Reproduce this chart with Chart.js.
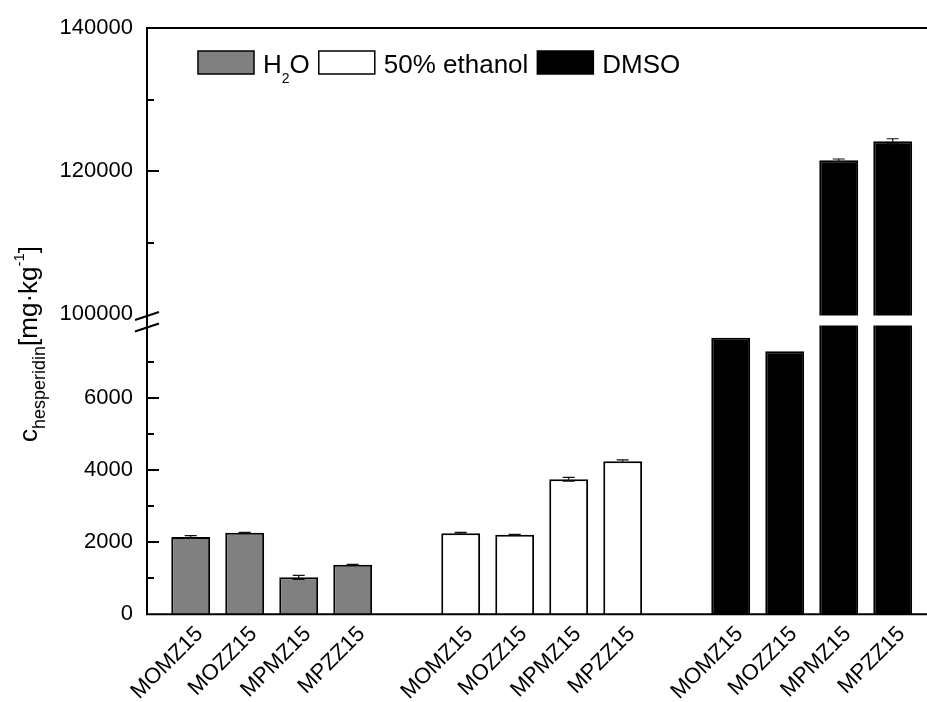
<!DOCTYPE html>
<html>
<head>
<meta charset="utf-8">
<title>Hesperidin content by extraction solvent</title>
<script src="https://cdn.jsdelivr.net/npm/chart.js@4.4.1/dist/chart.umd.min.js"></script>
<style>
  html, body { margin: 0; padding: 0; background: #fff; }
  #wrap { position: relative; width: 927px; height: 702px; }
  #wrap canvas { position: absolute; left: 0; top: 0; }
</style>
</head>
<body>
<div id="wrap">
  <canvas id="lower" width="927" height="702"></canvas>
  <canvas id="upper" width="927" height="702"></canvas>
</div>
<script>
// samples, one group per extraction solvent
const samples = ['MOMZ15', 'MOZZ15', 'MPMZ15', 'MPZZ15'];
const solvents = ['H2O', '50% ethanol', 'DMSO'];

// mean hesperidin content [mg/kg]
const h2oValues = [2140, 2260, 1025, 1375];
const ethanolValues = [2245, 2205, 3740, 4240];
const dmsoValues = [7660, 7285, 121500, 124150];

// standard deviations [mg/kg]
const h2oErrors = [40, 10, 55, 10];
const ethanolErrors = [25, 10, 55, 35];
const dmsoErrors = [0, 0, 180, 360];

// broken y axis: lower and upper segment, labelled ticks
const lowerRange = [0, 8000];
const upperRange = [100000, 140000];
const lowerLabels = [0, 2000, 4000, 6000];
const upperLabels = [100000, 120000, 140000];

const yTitle = [
  { text: 'c', size: 26 },
  { text: 'hesperidin', size: 18, shift: 8 },
  { text: '[mg·kg', size: 26 },
  { text: '-1', size: 15, shift: -13 },
  { text: ']', size: 26 }
];

// ---- layout ----
const W = 927, H = 702;
const FONT = '"Liberation Sans", Arial, sans-serif';
const FRAME_X = 147;
const TOP = 28, BREAK_HI = 314, BREAK_LO = 325.5, BOTTOM = 614.3;
const PLOT_LEFT = 163.7, PLOT_RIGHT = 919.7;

const fills = ['#808080', '#ffffff', '#000000'];

// category slots: the samples of each solvent, one empty slot between groups
const labels = [];
solvents.forEach((s, g) => {
  if (g) labels.push('');
  samples.forEach(n => labels.push(n));
});

function slot(values, g) {
  const arr = labels.map(() => null);
  values.forEach((v, i) => { arr[g * (samples.length + 1) + i] = v; });
  return arr;
}

function makeDatasets(clipBottom) {
  const vals = [h2oValues, ethanolValues, dmsoValues];
  const errs = [h2oErrors, ethanolErrors, dmsoErrors];
  return vals.map((v, g) => ({
    label: solvents[g],
    data: slot(v, g),
    errors: slot(errs[g], g),
    backgroundColor: fills[g],
    borderColor: '#000',
    borderWidth: 2,
    grouped: false,
    barPercentage: 0.72,
    categoryPercentage: 1,
    clip: { left: 0, right: 0, top: 0, bottom: clipBottom }
  }));
}

// text runs with sub/superscripts
function drawRich(ctx, parts, x, y) {
  parts.forEach(p => {
    ctx.font = p.size + 'px ' + FONT;
    ctx.fillText(p.text, x, y + (p.shift || 0));
    x += ctx.measureText(p.text).width;
  });
  return x;
}

function formulaParts(name) {
  const parts = [];
  name.split(/(?<=[A-Za-z])(\d+)/).forEach((t, i) => {
    if (!t) return;
    parts.push(i % 2 ? { text: t, size: 14, shift: 10 } : { text: t, size: 26 });
  });
  return parts;
}

const errorBars = {
  id: 'errorBars',
  afterDatasetsDraw(chart) {
    const { ctx, chartArea: a, scales: { y } } = chart;
    ctx.save();
    ctx.beginPath();
    ctx.rect(a.left, a.top - 1, a.right - a.left, a.bottom - a.top + 2);
    ctx.clip();
    ctx.strokeStyle = '#111';
    ctx.lineWidth = 1.2;
    chart.data.datasets.forEach((ds, di) => {
      chart.getDatasetMeta(di).data.forEach((bar, i) => {
        const v = ds.data[i], e = ds.errors[i];
        if (v == null || !e) return;
        const hi = y.getPixelForValue(v + e), lo = y.getPixelForValue(v - e), x = bar.x;
        ctx.beginPath();
        ctx.moveTo(x, hi); ctx.lineTo(x, lo);
        ctx.moveTo(x - 6, hi); ctx.lineTo(x + 6, hi);
        ctx.moveTo(x - 6, lo); ctx.lineTo(x + 6, lo);
        ctx.stroke();
      });
    });
    ctx.restore();
  }
};

// inward tick marks on the left axis
function tickMarks(majors, skip) {
  return {
    id: 'tickMarks',
    afterDraw(chart) {
      const { ctx, scales: { y } } = chart;
      ctx.save();
      ctx.strokeStyle = '#000';
      ctx.lineWidth = 2;
      y.ticks.forEach(t => {
        if (skip.includes(t.value)) return;
        const py = Math.round(y.getPixelForValue(t.value));
        const len = majors.includes(t.value) ? 12 : 7;
        ctx.beginPath();
        ctx.moveTo(FRAME_X, py);
        ctx.lineTo(FRAME_X + len, py);
        ctx.stroke();
      });
      ctx.restore();
    }
  };
}

// axis lines, break marks and y title
const frame = {
  id: 'frame',
  afterDraw(chart) {
    const ctx = chart.ctx;
    ctx.save();
    ctx.strokeStyle = '#000';
    ctx.lineWidth = 2;
    ctx.beginPath();
    ctx.moveTo(W, TOP); ctx.lineTo(FRAME_X, TOP);
    ctx.lineTo(FRAME_X, BOTTOM); ctx.lineTo(W, BOTTOM);
    ctx.stroke();
    [BREAK_HI + 2, BREAK_LO + 2].forEach(by => {
      ctx.beginPath();
      ctx.moveTo(FRAME_X - 12, by + 4);
      ctx.lineTo(FRAME_X + 12, by - 4);
      ctx.stroke();
    });
    ctx.fillStyle = '#000';
    ctx.textBaseline = 'alphabetic';
    ctx.translate(37, 442);
    ctx.rotate(-Math.PI / 2);
    drawRich(ctx, yTitle, 0, 0);
    ctx.restore();
  }
};

const legendBoxes = {
  id: 'legendBoxes',
  afterDraw(chart) {
    const ctx = chart.ctx;
    let x = 198;
    ctx.save();
    ctx.textBaseline = 'alphabetic';
    chart.data.datasets.forEach(ds => {
      ctx.fillStyle = ds.backgroundColor;
      ctx.fillRect(x, 51, 56, 23);
      ctx.strokeStyle = '#000';
      ctx.lineWidth = 1.5;
      ctx.strokeRect(x, 51, 56, 23);
      ctx.fillStyle = '#000';
      x = drawRich(ctx, formulaParts(ds.label), x + 65, 73) + 9;
    });
    ctx.restore();
  }
};

// tick labels end 14px left of the frame line; the hidden tick length
// carries them past the gap between frame and plot area
function yScale(range, step, shown) {
  return {
    min: range[0],
    max: range[1],
    afterFit(scale) { scale.width = PLOT_LEFT; },
    grid: { display: false, drawTicks: true, tickLength: PLOT_LEFT - FRAME_X },
    border: { display: false },
    ticks: {
      stepSize: step,
      autoSkip: false,
      padding: 14,
      color: '#000',
      font: { family: FONT, size: 22 },
      callback: v => shown.includes(v) ? String(v) : ''
    }
  };
}

function xScale(height, showLabels) {
  return {
    afterFit(scale) { scale.height = height; },
    grid: { display: false, drawTicks: false },
    border: { display: false },
    ticks: {
      display: showLabels,
      autoSkip: false,
      minRotation: 45,
      maxRotation: 45,
      padding: 7,
      labelOffset: 9,
      color: '#000',
      font: { family: FONT, size: 22 }
    }
  };
}

const common = {
  responsive: false,
  animation: false,
  devicePixelRatio: 1,
  events: [],
  plugins: { legend: { display: false }, tooltip: { enabled: false } }
};

new Chart(document.getElementById('lower'), {
  type: 'bar',
  data: { labels, datasets: makeDatasets(0) },
  options: {
    ...common,
    layout: { padding: { top: BREAK_LO, right: W - PLOT_RIGHT, bottom: 0, left: 0 } },
    scales: {
      x: xScale(H - BOTTOM, true),
      y: yScale(lowerRange, 1000, lowerLabels)
    }
  },
  plugins: [errorBars, tickMarks(lowerLabels, [0, lowerRange[1]]), frame]
});

new Chart(document.getElementById('upper'), {
  type: 'bar',
  data: { labels, datasets: makeDatasets(1.5) },
  options: {
    ...common,
    layout: { padding: { top: TOP, right: W - PLOT_RIGHT, bottom: 0, left: 0 } },
    scales: {
      x: xScale(H - BREAK_HI, false),
      y: yScale(upperRange, 10000, upperLabels)
    }
  },
  plugins: [errorBars, tickMarks(upperLabels, [upperRange[0]]), legendBoxes]
});
</script>
</body>
</html>
